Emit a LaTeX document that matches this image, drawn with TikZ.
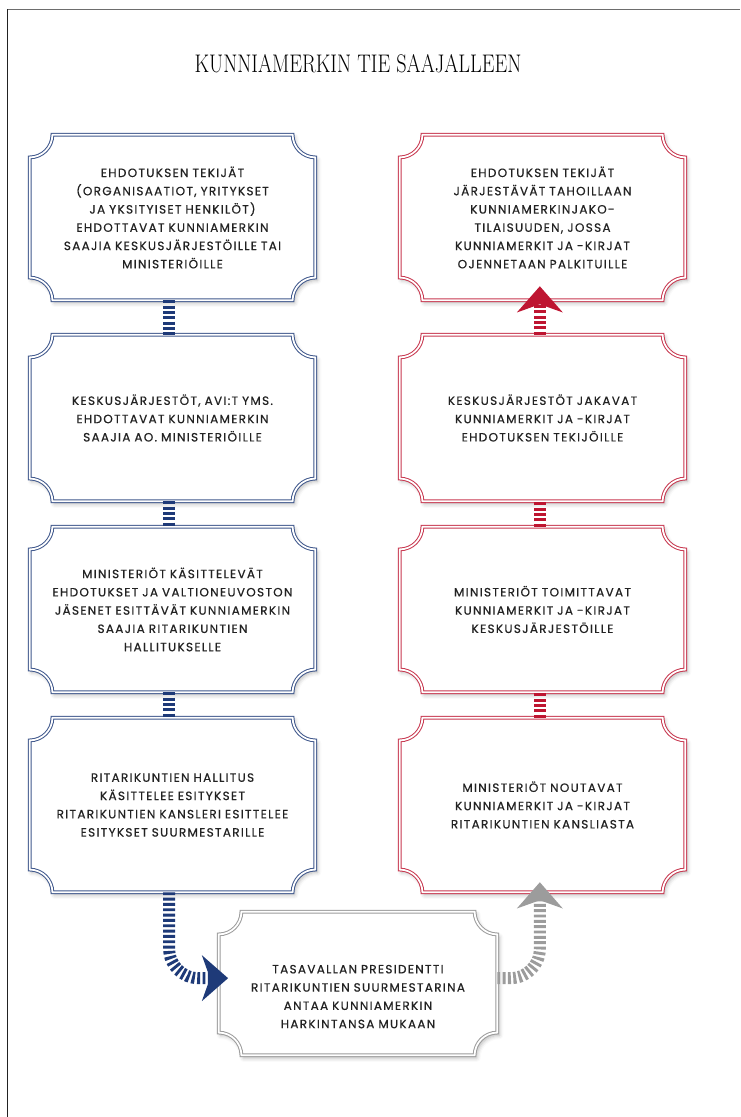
\documentclass[tikz,border=0pt]{standalone}
\usepackage{fontspec}
\usepackage{graphicx}
\newfontfamily\kmteksti{Poppins}[LetterSpace=11, FakeBold=0.6]
\usetikzlibrary{arrows.meta,backgrounds,calc,shadows.blur}

\definecolor{kmsini}{HTML}{1E3A78}
\definecolor{kmpuna}{HTML}{BE1531}
\definecolor{kmharmaa}{HTML}{9C9C9C}
\definecolor{kmmusta}{HTML}{222222}

\tikzset{
  laatikko/.style={minimum width=213.75pt, minimum height=#1, inner sep=0pt,
    text width=208pt, align=center, text=kmmusta,
    font=\kmteksti\fontsize{9}{13.7}\selectfont},
  kehys/.style={draw=#1, double=white, double distance=1.3pt, line width=0.75pt,
    fill=white, blur shadow={shadow xshift=1.5pt, shadow yshift=-2pt,
    shadow blur radius=3pt, shadow opacity=30}},
  juova/.style={draw=#1, line width=9pt, dash pattern=on 2.2pt off 1.8pt},
  kmkarki/.style={-{Stealth[length=19.5pt, width=34pt, inset=6pt]}},
}

% notched double frame round a node
\newcommand{\kmkehys}[2]{%
  \path[kehys=#2]
    ($(#1.north west)+(17pt,0)$) -- ($(#1.north east)+(-17pt,0)$)
    arc[start angle=180, end angle=270, radius=17pt]
    -- ($(#1.south east)+(0,17pt)$)
    arc[start angle=90, end angle=180, radius=17pt]
    -- ($(#1.south west)+(17pt,0)$)
    arc[start angle=0, end angle=90, radius=17pt]
    -- ($(#1.north west)+(0,-17pt)$)
    arc[start angle=270, end angle=360, radius=17pt] -- cycle;}

\begin{document}
\begin{tikzpicture}[x=0.75pt, y=0.75pt]
    \useasboundingbox (0,0) rectangle (740,1117);

    % page edges
    \draw[kmharmaa!70!black, line width=1.2pt] (7,1107.5) -- (740,1107.5);
    \draw[kmmusta, line width=1.2pt] (7.5,0) -- (7.5,1108);

    % Title
    \node (otsikko) at (358,1053)
        {\resizebox{245pt}{13.5pt}{\fontsize{20}{20}\selectfont KUNNIAMERKIN TIE SAAJALLEEN}};

    % Left column: proposals
    \node[laatikko=123.75pt] (v1) at (172.5,899.5)
        {EHDOTUKSEN TEKIJÄT\\(ORGANISAATIOT, YRITYKSET\\JA YKSITYISET HENKILÖT)\\EHDOTTAVAT KUNNIAMERKIN\\SAAJIA KESKUSJÄRJESTÖILLE TAI\\MINISTERIÖILLE};
    \node[laatikko=124.5pt] (v2) at (172.5,699)
        {KESKUSJÄRJESTÖT, AVI:T YMS.\\EHDOTTAVAT KUNNIAMERKIN\\SAAJIA AO. MINISTERIÖILLE};
    \node[laatikko=123.75pt] (v3) at (172.5,507.5)
        {MINISTERIÖT KÄSITTELEVÄT\\EHDOTUKSET JA VALTIONEUVOSTON\\JÄSENET ESITTÄVÄT KUNNIAMERKIN\\SAAJIA RITARIKUNTIEN\\HALLITUKSELLE};
    \node[laatikko=130.5pt] (v4) at (172.5,312)
        {RITARIKUNTIEN HALLITUS\\KÄSITTELEE ESITYKSET\\RITARIKUNTIEN KANSLERI ESITTELEE\\ESITYKSET SUURMESTARILLE};

    % Right column: delivery
    \node[laatikko=123.75pt] (o1) at (542.5,899.5)
        {EHDOTUKSEN TEKIJÄT\\JÄRJESTÄVÄT TAHOILLAAN\\KUNNIAMERKINJAKO-\\TILAISUUDEN, JOSSA\\KUNNIAMERKIT JA -KIRJAT\\OJENNETAAN PALKITUILLE};
    \node[laatikko=124.5pt] (o2) at (542.5,699)
        {KESKUSJÄRJESTÖT JAKAVAT\\KUNNIAMERKIT JA -KIRJAT\\EHDOTUKSEN TEKIJÖILLE};
    \node[laatikko=123.75pt] (o3) at (542.5,507.5)
        {MINISTERIÖT TOIMITTAVAT\\KUNNIAMERKIT JA -KIRJAT\\KESKUSJÄRJESTÖILLE};
    \node[laatikko=130.5pt] (o4) at (542.5,312)
        {MINISTERIÖT NOUTAVAT\\KUNNIAMERKIT JA -KIRJAT\\RITARIKUNTIEN KANSLIASTA};

    % The President
    \node[laatikko=107.25pt, minimum width=208.5pt] (presidentti) at (358,133.5)
        {\rule{0pt}{26pt}TASAVALLAN PRESIDENTTI\\RITARIKUNTIEN SUURMESTARINA\\ANTAA KUNNIAMERKIN\\HARKINTANSA MUKAAN};

    % frames behind the texts
    \begin{scope}[on background layer]
        \foreach \n in {v1,v2,v3,v4} {\kmkehys{\n}{kmsini!85}}
        \foreach \n in {o1,o2,o3,o4} {\kmkehys{\n}{kmpuna!85}}
        \kmkehys{presidentti}{kmharmaa}
    \end{scope}

    % connectors
    \foreach \a/\b in {v1/v2,v2/v3,v3/v4}
        \draw[juova=kmsini] ([xshift=-2.5pt]\a.south) -- ([xshift=-2.5pt]\b.north);
    \foreach \a/\b in {o4/o3,o3/o2}
        \draw[juova=kmpuna] ([xshift=-2pt]\a.north) -- ([xshift=-2pt]\b.south);
    \draw[juova=kmpuna, kmkarki] ([xshift=-2pt]o2.north) -- ([xshift=-2pt,yshift=10.5pt]o1.south);

    \draw[juova=kmsini, kmkarki, rounded corners=22pt]
        ([xshift=-2.5pt]v4.south) |- ([xshift=7pt,yshift=4pt]presidentti.west);
    \draw[juova=kmharmaa, kmkarki, rounded corners=22pt]
        ([yshift=4pt]presidentti.east) -| ([xshift=-2pt,yshift=7.5pt]o4.south);
\end{tikzpicture}
\end{document}
